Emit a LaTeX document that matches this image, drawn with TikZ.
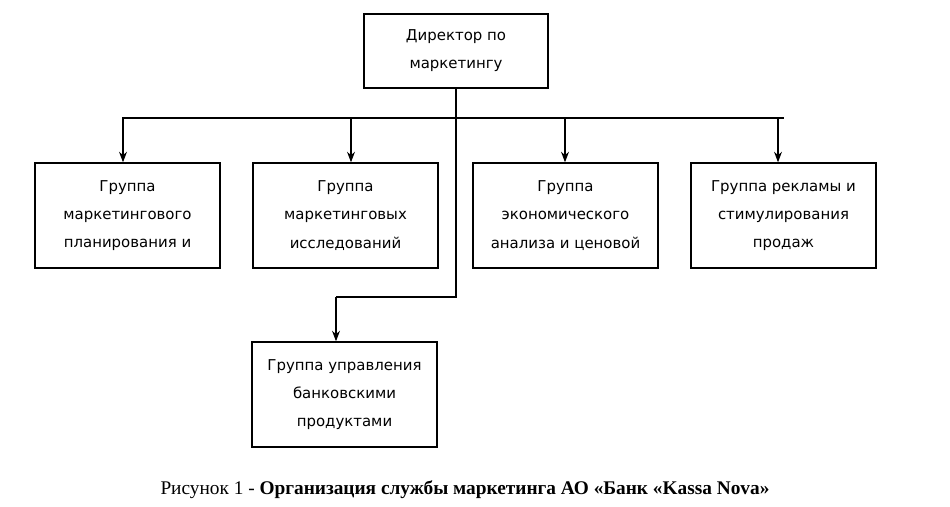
\documentclass[tikz,border=0pt]{standalone}
\usepackage{fontspec}
\setmainfont{Liberation Serif}
\newfontfamily\boxfont{DejaVu Sans}
\usetikzlibrary{arrows.meta,positioning}

\begin{document}
\begin{tikzpicture}[
    x=0.02cm, y=-0.02cm,
    box/.style={rectangle, draw, line width=0.8pt, minimum width=3.7cm, minimum height=2.1cm,
      align=center, font=\boxfont\fontsize{8.5}{16}\selectfont},
    head/.style={box, minimum width=3.68cm, minimum height=1.48cm},
    arrow/.style={-{Stealth[length=6pt,width=4.5pt]}, line width=0.6pt},
    line/.style={line width=0.6pt}
]
\useasboundingbox (0,0) rectangle (950,507);

% Director
\node[head] (director) at (456,51) {Директор по\\маркетингу};

% Groups (top row)
\node[box] (plan) at (127.5,215.5) {Группа\\маркетингового\\планирования и};
\node[box] (research) at (345.5,215.5) {Группа\\маркетинговых\\исследований};
\node[box] (econ) at (565.5,215.5) {Группа\\экономического\\анализа и ценовой};
\node[box] (adv) at (783.5,215.5) {Группа рекламы и\\стимулирования\\продаж};

% Group (bottom)
\node[box] (products) at (344.5,394.5) {Группа управления\\банковскими\\продуктами};

% Bus line
\coordinate (busL) at (122,118);
\coordinate (busR) at (784,118);
\coordinate (b1) at (123,118);
\coordinate (b2) at (351,118);
\coordinate (b3) at (565,118);
\coordinate (b4) at (778,118);
\coordinate (turn) at (456,297);
\coordinate (drop) at (336,297);
\draw[line] (busL) -- (busR);

% Arrows
\draw[arrow] (b1) -- (b1 |- plan.north);
\draw[arrow] (b2) -- (b2 |- research.north);
\draw[arrow] (b3) -- (b3 |- econ.north);
\draw[arrow] (b4) -- (b4 |- adv.north);
\draw[line] (director.south) -- (turn) -- (drop);
\draw[arrow] (drop) -- (drop |- products.north);

% Caption
\node[font=\fontsize{11}{14}\selectfont] (caption) at (465,490)
  {Рисунок 1 - \textbf{Организация службы маркетинга АО «Банк «Kassa Nova»}};

\end{tikzpicture}
\end{document}
